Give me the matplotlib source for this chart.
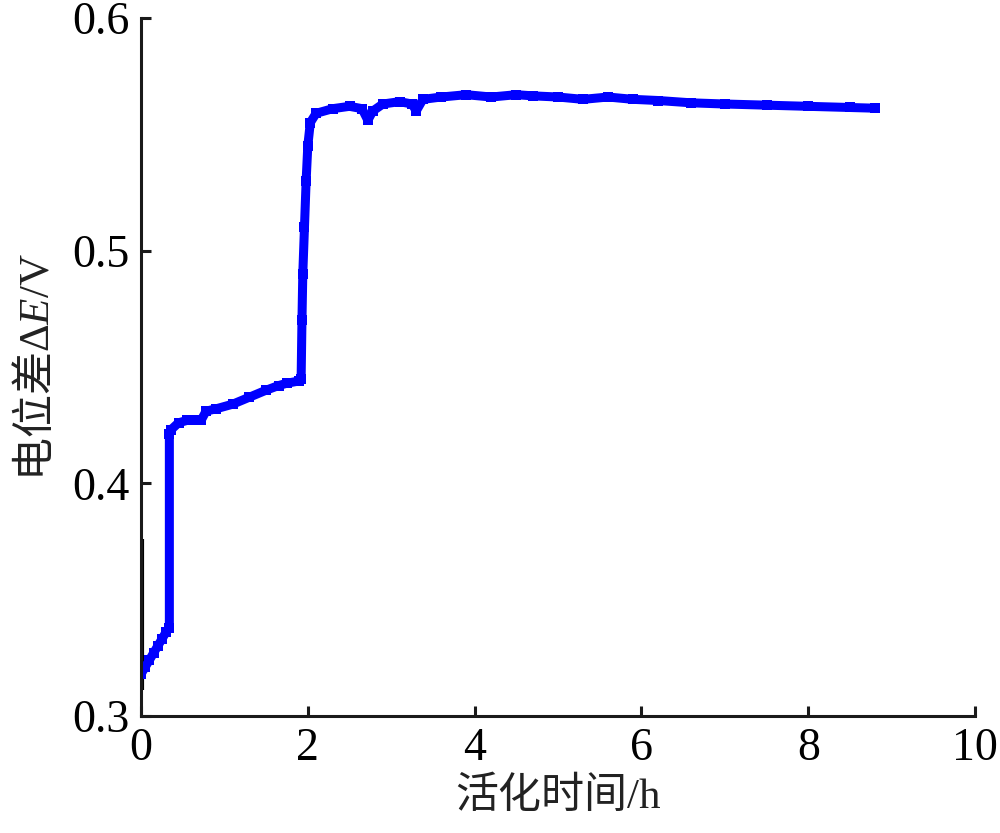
import matplotlib
matplotlib.use("Agg")
import matplotlib.pyplot as plt

# Data
time_h = [0.00, 0.05, 0.10, 0.15, 0.20, 0.25, 0.30, 0.34, 0.34, 0.36, 0.45, 0.55, 0.65,
          0.72, 0.78, 0.90, 1.10, 1.30, 1.50, 1.65, 1.75, 1.90, 1.92, 1.93, 1.94, 1.96,
          1.98, 2.00, 2.03, 2.10, 2.30, 2.50, 2.65, 2.72, 2.78, 2.90, 3.10, 3.25, 3.30,
          3.38, 3.60, 3.90, 4.20, 4.50, 4.70, 5.00, 5.30, 5.60, 5.90, 6.20, 6.60, 7.00,
          7.50, 8.00, 8.50, 8.80]
delta_e = [0.318, 0.321, 0.324, 0.327, 0.330, 0.333, 0.336, 0.338, 0.421, 0.423, 0.426,
           0.427, 0.427, 0.427, 0.431, 0.432, 0.434, 0.437, 0.440, 0.442, 0.443, 0.444,
           0.445, 0.470, 0.490, 0.510, 0.530, 0.545, 0.555, 0.559, 0.561, 0.562, 0.561,
           0.556, 0.560, 0.563, 0.564, 0.563, 0.560, 0.565, 0.566, 0.567, 0.566, 0.567,
           0.5665, 0.566, 0.565, 0.566, 0.565, 0.5645, 0.5635, 0.563, 0.5625, 0.562,
           0.5615, 0.5612]
artifact_t = [0.01, 0.01]
artifact_e = [0.311, 0.376]

x_ticks = [0, 2, 4, 6, 8, 10]
y_ticks = [0.3, 0.4, 0.5, 0.6]
y_tick_labels = ["0.3", "0.4", "0.5", "0.6"]

plt.rcParams['font.family'] = ['Liberation Serif', 'Noto Sans CJK SC']
plt.rcParams['mathtext.fontset'] = 'custom'
plt.rcParams['mathtext.it'] = 'Liberation Serif:italic'
plt.rcParams['mathtext.rm'] = 'Liberation Serif'

fig = plt.figure(figsize=(10, 8.33), dpi=100)
ax = fig.add_axes([0.141, 0.1405, 0.834, 0.838])

ax.plot(artifact_t, artifact_e, color='black', lw=3, solid_capstyle='butt')
ax.plot(time_h, delta_e, color='#0000FF', lw=6.5, marker='s', markersize=7,
        markeredgewidth=0, solid_joinstyle='round', solid_capstyle='round')

ax.set_xlim(0, 10)
ax.set_ylim(0.3, 0.6)
ax.set_xticks(x_ticks)
ax.set_xticklabels([str(v) for v in x_ticks])
ax.set_yticks(y_ticks)
ax.set_yticklabels(y_tick_labels)

for s in ['top', 'right']:
    ax.spines[s].set_visible(False)
for s in ['left', 'bottom']:
    ax.spines[s].set_linewidth(2.2)
    ax.spines[s].set_color('#1a1a1a')

ax.tick_params(direction='in', length=7, width=2.2, labelsize=33, color='#1a1a1a', pad=8)

ax.set_xlabel('活化时间/h', fontsize=31, family=['Liberation Serif', 'Noto Sans CJK SC'],
              color='#222222', labelpad=6)
ax.set_ylabel(r'电位差$\mathrm{\Delta}\mathit{E}\mathrm{/V}$', fontsize=31,
              family=['Noto Sans CJK SC'], color='#222222', labelpad=10)

fig.savefig('out.png', dpi=100, facecolor='white')
